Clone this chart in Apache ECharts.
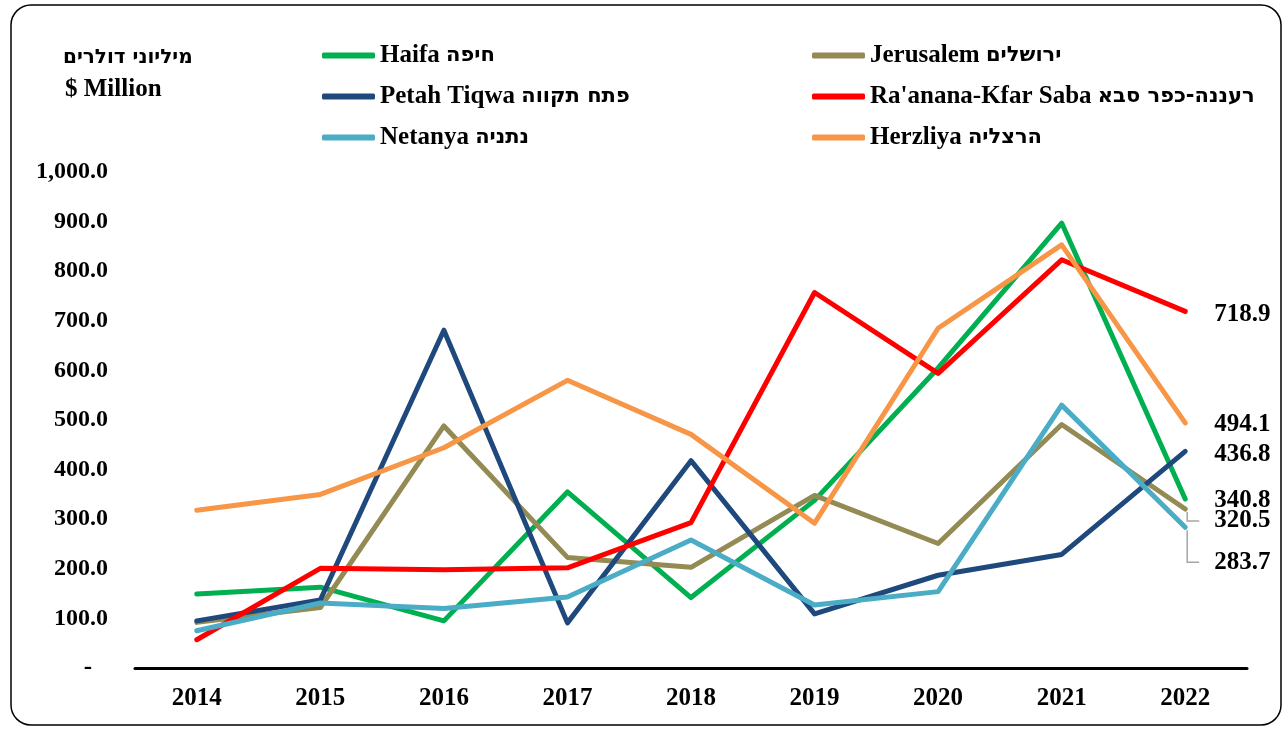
<!DOCTYPE html>
<html>
<head>
<meta charset="utf-8">
<script src="https://cdn.jsdelivr.net/npm/echarts@6/dist/echarts.min.js"></script>
<style>
html,body{margin:0;padding:0;background:#fff;}
#chart{width:1287px;height:729px;}
</style>
</head>
<body>
<div id="chart"></div>
<script>
const categories = ['2014','2015','2016','2017','2018','2019','2020','2021','2022'];
const haifa      = [149, 163,  95, 355, 142, 338, 605, 897, 340.8];
const jerusalem  = [ 92, 122, 488, 223, 203, 348, 251, 491, 320.5];
const petahTiqwa = [ 95, 137, 681,  91, 418, 109, 187, 229, 436.8];
const raanana    = [ 57, 201, 198, 202, 293, 757, 594, 823, 718.9];
const netanya    = [ 75, 131, 120, 143, 258, 127, 154, 530, 283.7];
const herzliya   = [318, 350, 444, 580, 471, 292, 685, 853, 494.1];
const yTicks = [0,100,200,300,400,500,600,700,800,900,1000];

const seriesDefs = [
  {en:'Haifa', he:'חיפה', data:haifa, color:'#00B050', dy:2, guide:false},
  {en:'Jerusalem', he:'ירושלים', data:jerusalem, color:'#948A54', dy:12, guide:true},
  {en:'Petah Tiqwa', he:'פתח תקווה', data:petahTiqwa, color:'#1F497D', dy:3, guide:false},
  {en:"Ra'anana-Kfar Saba", he:'רעננה-כפר סבא', data:raanana, color:'#FF0000', dy:3, guide:false},
  {en:'Netanya', he:'נתניה', data:netanya, color:'#4BACC6', dy:35, guide:true},
  {en:'Herzliya', he:'הרצליה', data:herzliya, color:'#F79646', dy:2, guide:false}
];
seriesDefs.forEach(s => { s.name = s.en + ' ' + s.he; });

const FONT = "'Liberation Serif', serif";
const HEFONT = "'DejaVu Sans', sans-serif";
const chart = echarts.init(document.getElementById('chart'));

function fmt(v){
  if (v === 0) return '{d|-}';
  return v.toLocaleString('en-US',{minimumFractionDigits:1, maximumFractionDigits:1});
}

const lastIdx = categories.length - 1;

const series = seriesDefs.map(s => ({
  name: s.name,
  type: 'line',
  showSymbol: true,
  symbol: 'circle',
  symbolSize: 0,
  lineStyle: {width: 5, color: s.color, cap: 'round', join: 'round'},
  itemStyle: {color: s.color},
  emphasis: {disabled: true},
  data: s.data.map((v, i) => i === lastIdx ? {
    value: v,
    label: {
      show: true, position: 'right', distance: 29,
      formatter: p => Number(p.value).toFixed(1),
      color: '#000', fontFamily: FONT, fontWeight: 'bold', fontSize: 25
    }
  } : v),
  labelLayout: {dy: s.dy}
}));

// leader lines (elbow) from the last point to its shifted label
series.push({
  type: 'custom',
  silent: true,
  z: 1,
  encode: {x: 0, y: 1},
  data: seriesDefs.filter(s => s.guide).map(s => [lastIdx, s.data[lastIdx], s.dy]),
  renderItem: function (params, api) {
    const p = api.coord([api.value(0), api.value(1)]);
    const dy = api.value(2);
    return {
      type: 'polyline',
      shape: {points: [[p[0] + 2, p[1] + 3], [p[0] + 2, p[1] + dy], [p[0] + 14, p[1] + dy]]},
      style: {stroke: '#A6A6A6', lineWidth: 1.5, fill: null}
    };
  }
});

const legendText = {
  fontFamily: FONT, fontWeight: 'bold', fontSize: 25, color: '#000',
  rich: {
    en: {fontFamily: FONT, fontWeight: 'bold', fontSize: 25, color: '#000'},
    he: {fontFamily: HEFONT, fontWeight: 'bold', fontSize: 21, color: '#000'}
  }
};
const legendFmt = name => {
  const s = seriesDefs.find(d => d.name === name);
  return '{en|' + s.en + ' }{he|' + s.he + '}';
};

chart.setOption({
  animation: false,
  backgroundColor: '#fff',
  title: [
    {text: 'מיליוני דולרים', left: 58, top: 43, textStyle: {fontFamily: HEFONT, fontWeight: 'bold', fontSize: 20, color: '#000'}},
    {text: '$ Million', left: 60, top: 72, textStyle: {fontFamily: FONT, fontWeight: 'bold', fontSize: 25, color: '#000'}}
  ],
  graphic: [{
    type: 'rect', z: -1, silent: true,
    shape: {x: 11, y: 5, width: 1270, height: 720, r: 20},
    style: {fill: 'none', stroke: '#000', lineWidth: 1.5}
  }],
  legend: [
    {data: [seriesDefs[0].name, seriesDefs[2].name, seriesDefs[4].name],
     orient: 'vertical', left: 317, top: 38, itemGap: 16, itemWidth: 53, itemHeight: 6,
     icon: 'roundRect', textStyle: legendText, formatter: legendFmt, selectedMode: false},
    {data: [seriesDefs[1].name, seriesDefs[3].name, seriesDefs[5].name],
     orient: 'vertical', left: 807, top: 38, itemGap: 16, itemWidth: 53, itemHeight: 6,
     icon: 'roundRect', textStyle: legendText, formatter: legendFmt, selectedMode: false}
  ],
  grid: {left: 135, right: 40, top: 172, bottom: 61, containLabel: false},
  xAxis: {
    type: 'category', data: categories, boundaryGap: true,
    axisLine: {show: true, lineStyle: {color: '#000', width: 3}},
    axisTick: {show: false},
    axisLabel: {color: '#000', fontFamily: FONT, fontWeight: 'bold', fontSize: 25, margin: 18}
  },
  yAxis: {
    type: 'value', min: yTicks[0], max: yTicks[yTicks.length-1], interval: 100,
    axisLine: {show: false}, axisTick: {show: false}, splitLine: {show: false},
    axisLabel: {color: '#000', fontFamily: FONT, fontWeight: 'bold', fontSize: 24, margin: 27, formatter: fmt,
      rich: {d: {fontFamily: FONT, fontWeight: 'bold', fontSize: 25, color: '#000', padding: [0, 16, 0, 0]}}}
  },
  series: series
});
</script>
</body>
</html>
